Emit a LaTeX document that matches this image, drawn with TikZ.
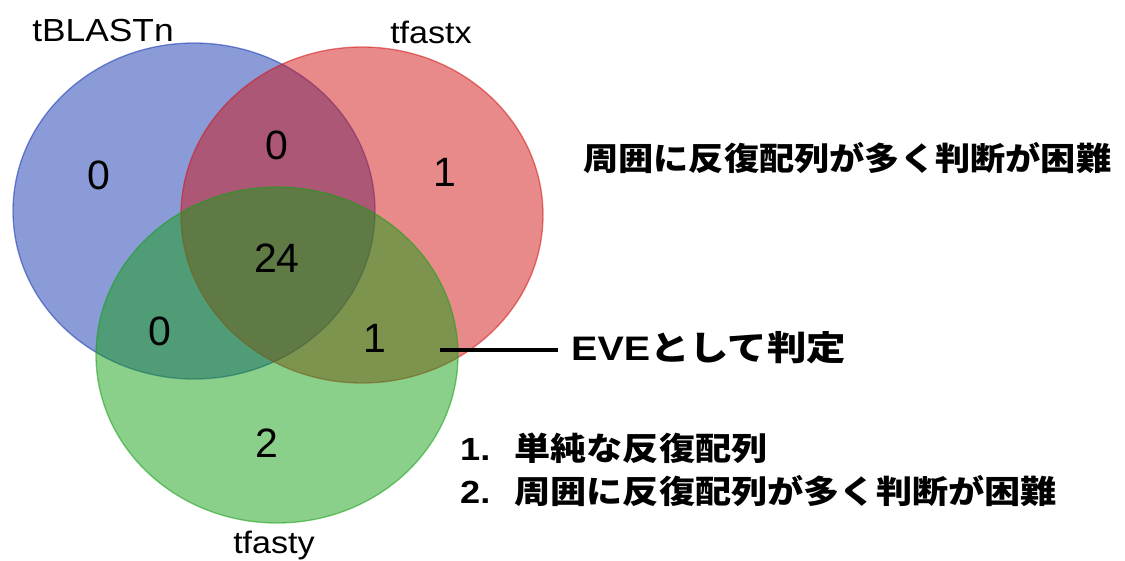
\documentclass[tikz,border=0pt]{standalone}
\usepackage{fontspec}
\usepackage{graphicx}
\setmainfont{Liberation Sans}
\newfontfamily\jp{Noto Sans CJK JP}
\usetikzlibrary{shapes.geometric}
\definecolor{vblue}{RGB}{21,55,177}
\definecolor{vred}{RGB}{209,21,21}
\definecolor{vgreen}{RGB}{21,159,21}
\begin{document}
\begin{tikzpicture}[x=1pt,y=-1pt,
  venn/.style={ellipse, inner sep=0pt, minimum width=362pt, minimum height=336pt,
    fill opacity=0.5, draw opacity=0.55, line width=1.3pt},
  setlabel/.style={inner sep=0pt, font=\fontsize{31}{36}\selectfont},
  count/.style={inner sep=0pt, font=\fontsize{41}{46}\selectfont},
  note/.style={inner sep=0pt, anchor=west, align=left, font=\fontsize{32}{43}\selectfont\bfseries}
]
\useasboundingbox (0,0) rectangle (1125,560);
\node[venn, fill=vblue, draw=vblue] (blue) at (194,211) {};
\node[venn, fill=vred, draw=vred] (red) at (362,215) {};
\node[venn, fill=vgreen, draw=vgreen] (green) at (277,355) {};

\node[setlabel] (lblue) at (103,31) {\scalebox{1.14}[1.03]{tBLASTn}};
\node[setlabel] (lred) at (431,32) {\scalebox{1.1}[1]{tfastx}};
\node[setlabel] (lgreen) at (274,545) {\scalebox{1.1}[1]{tfasty}};

\node[count] (nb) at (99,175) {0};
\node[count] (nbr) at (277,145) {0};
\node[count] (nr) at (445,172) {1};
\node[count] (nall) at (277,258) {24};
\node[count] (nbg) at (160,331) {0};
\node[count] (nrg) at (375,338) {1};
\node[count] (ng) at (267,443) {2};

\node[note] (hard) at (583,158) {\scalebox{1.1}[1]{\jp 周囲に反復配列が多く判断が困難}};
\node[note, font=\fontsize{34}{40}\selectfont\bfseries] (eve) at (571,348) {\scalebox{1.16}[1]{EVE{\jp として判定}}};
\coordinate (evetip) at (440,350);
\draw[line width=4pt] (evetip) -- ([xshift=-13pt,yshift=-2pt]eve.west);
\node[note, font=\fontsize{32}{43}\selectfont\bfseries] (list) at (460,470) {\scalebox{1.13}[1]{\makebox[48pt][l]{1.}{\jp 単純な反復配列}}\\
  \scalebox{1.13}[1]{\makebox[48pt][l]{2.}{\jp 周囲に反復配列が多く判断が困難}}};
\end{tikzpicture}
\end{document}
